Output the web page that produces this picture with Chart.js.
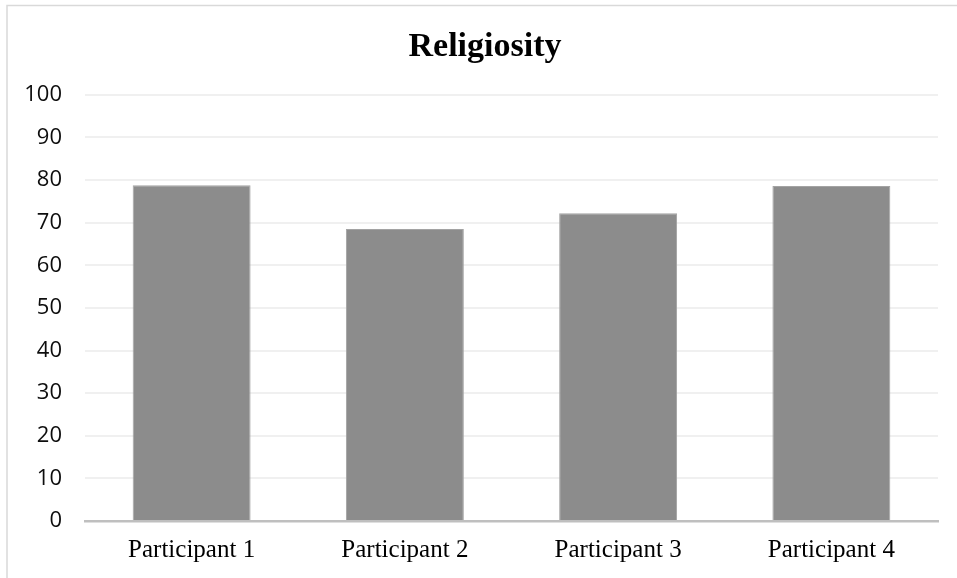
<!DOCTYPE html>
<html>
<head>
<meta charset="utf-8">
<script src="https://cdn.jsdelivr.net/npm/chart.js@4/dist/chart.umd.min.js"></script>
<style>
  html, body { margin: 0; padding: 0; background: #fff; }
  #wrap { width: 957px; height: 578px; position: relative; }
</style>
</head>
<body>
<div id="wrap"><canvas id="c"></canvas></div>
<script>
// Religiosity score per participant
const categories = ['Participant 1', 'Participant 2', 'Participant 3', 'Participant 4'];
const religiosity = [78.8, 68.5, 72.2, 78.6];
const yMin = 0;
const yMax = 100;
const yStep = 10;

// Light frame around the chart
const framePlugin = {
  id: 'frame',
  beforeDraw(chart) {
    const ctx = chart.ctx;
    ctx.save();
    ctx.fillStyle = '#ffffff';
    ctx.fillRect(0, 0, chart.width, chart.height);
    ctx.strokeStyle = '#d9d9d9';
    ctx.lineWidth = 1.5;
    ctx.strokeRect(7, 5.5, chart.width + 50, chart.height + 50);
    ctx.restore();
  }
};

new Chart(document.getElementById('c'), {
  type: 'bar',
  data: {
    labels: categories,
    datasets: [{
      label: 'Religiosity',
      data: religiosity,
      backgroundColor: '#8c8c8c',
      borderColor: '#a3a3a3',
      borderWidth: 1,
      borderSkipped: 'bottom',
      categoryPercentage: 1.0,
      barPercentage: 0.553
    }]
  },
  options: {
    responsive: true,
    maintainAspectRatio: false,
    animation: false,
    layout: { padding: { left: 13, right: 0, top: 27, bottom: 0 } },
    plugins: {
      legend: { display: false },
      tooltip: { enabled: false },
      title: {
        display: true,
        text: 'Religiosity',
        color: '#000',
        font: { family: 'Liberation Serif', size: 34, weight: 'bold' },
        padding: { top: 0, bottom: 27 }
      }
    },
    scales: {
      x: {
        grid: { display: false, drawTicks: false },
        border: { display: true, color: '#bfbfbf', width: 2.5 },
        ticks: {
          color: '#000',
          font: { family: 'Liberation Serif', size: 25 },
          padding: 14,
          maxRotation: 0
        },
        afterFit(scale) { scale.height = 57; }
      },
      y: {
        min: yMin,
        max: yMax,
        grid: { color: '#f0f0f0', lineWidth: 2, drawTicks: false },
        border: { display: false },
        ticks: {
          stepSize: yStep,
          color: '#0d0d0d',
          font: { family: 'Open Sans', size: 22 },
          padding: 23
        },
        afterFit(scale) { scale.width = 72; }
      },
      yRight: {
        position: 'right',
        display: true,
        grid: { display: false, drawTicks: false },
        border: { display: false },
        ticks: { display: false },
        afterFit(scale) { scale.width = 19; }
      }
    }
  },
  plugins: [framePlugin]
});
</script>
</body>
</html>
